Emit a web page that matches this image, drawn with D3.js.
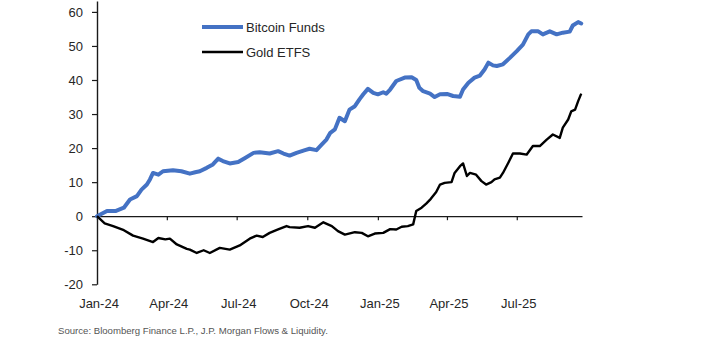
<!DOCTYPE html>
<html>
<head>
<meta charset="utf-8">
<script src="https://cdn.jsdelivr.net/npm/d3@7"></script>
<style>
  html, body { margin: 0; padding: 0; background: #fff; }
  svg { display: block; font-family: "Liberation Sans", Arial, sans-serif; }
</style>
</head>
<body>
<svg id="chart" width="720" height="340"></svg>
<script>
const seriesNames = ["Bitcoin Funds", "Gold ETFS"];
const yTickValues = [-20, -10, 0, 10, 20, 30, 40, 50, 60];
const xTickDates = ["2024-01-01", "2024-04-01", "2024-07-01", "2024-10-01", "2025-01-01", "2025-04-01", "2025-07-01"];
const xTickLabels = ["Jan-24", "Apr-24", "Jul-24", "Oct-24", "Jan-25", "Apr-25", "Jul-25"];
const sourceText = "Source: Bloomberg Finance L.P., J.P. Morgan Flows & Liquidity.";

const btcDates = ["2024-01-01","2024-01-14","2024-01-25","2024-02-05","2024-02-13","2024-02-22","2024-02-28","2024-03-06","2024-03-10","2024-03-14","2024-03-21","2024-03-27","2024-04-09","2024-04-20","2024-05-01","2024-05-08","2024-05-14","2024-05-23","2024-05-31","2024-06-07","2024-06-13","2024-06-22","2024-07-03","2024-07-12","2024-07-23","2024-07-31","2024-08-13","2024-08-24","2024-08-31","2024-09-08","2024-09-17","2024-09-28","2024-10-04","2024-10-13","2024-10-20","2024-10-26","2024-10-31","2024-11-06","2024-11-12","2024-11-19","2024-11-25","2024-12-02","2024-12-08","2024-12-13","2024-12-19","2024-12-26","2025-01-01","2025-01-08","2025-01-12","2025-01-17","2025-01-25","2025-02-05","2025-02-14","2025-02-20","2025-02-24","2025-03-01","2025-03-10","2025-03-16","2025-03-23","2025-04-01","2025-04-09","2025-04-18","2025-04-22","2025-04-29","2025-05-07","2025-05-14","2025-05-20","2025-05-25","2025-05-31","2025-06-05","2025-06-13","2025-06-22","2025-07-01","2025-07-09","2025-07-16","2025-07-20","2025-07-29","2025-08-04","2025-08-13","2025-08-22","2025-08-30","2025-09-08","2025-09-12","2025-09-19","2025-09-23"];
const btcValues = [0,1.5,1.5,2.5,4.9,5.9,7.8,9.3,10.8,12.7,12.2,13.2,13.5,13.2,12.5,12.9,13.2,14.2,15.2,16.9,16.2,15.5,15.9,17.1,18.6,18.8,18.4,19.1,18.4,17.8,18.6,19.4,19.8,19.4,21.1,22.5,24.5,25.5,28.9,27.9,31.3,32.3,34.3,35.8,37.4,36.2,35.8,36.4,36.0,37.2,39.7,40.7,40.8,40.0,37.7,36.7,36.0,35.0,35.8,35.9,35.3,35.1,37.2,39.2,40.7,41.3,43.1,45.1,44.3,44.1,44.6,46.5,48.5,50.4,53.4,54.3,54.3,53.4,54.3,53.4,53.9,54.2,56.0,57.0,56.6];

const goldDates = ["2024-01-01","2024-01-11","2024-01-22","2024-02-05","2024-02-17","2024-03-01","2024-03-14","2024-03-21","2024-03-30","2024-04-05","2024-04-14","2024-04-27","2024-05-01","2024-05-10","2024-05-19","2024-05-27","2024-06-09","2024-06-22","2024-07-05","2024-07-18","2024-07-27","2024-08-04","2024-08-13","2024-08-24","2024-09-04","2024-09-08","2024-09-21","2024-10-02","2024-10-11","2024-10-22","2024-11-02","2024-11-10","2024-11-19","2024-12-02","2024-12-11","2024-12-19","2024-12-28","2025-01-08","2025-01-17","2025-01-25","2025-02-01","2025-02-09","2025-02-16","2025-02-20","2025-02-27","2025-03-05","2025-03-11","2025-03-18","2025-03-23","2025-03-29","2025-04-07","2025-04-11","2025-04-18","2025-04-22","2025-04-27","2025-05-01","2025-05-09","2025-05-16","2025-05-22","2025-05-29","2025-06-02","2025-06-09","2025-06-13","2025-06-20","2025-06-26","2025-07-05","2025-07-14","2025-07-22","2025-07-31","2025-08-09","2025-08-17","2025-08-26","2025-08-30","2025-09-06","2025-09-10","2025-09-15","2025-09-19","2025-09-23"];
const goldValues = [0,-2.1,-2.9,-4.1,-5.7,-6.6,-7.6,-6.4,-6.8,-6.6,-8.3,-9.6,-9.8,-10.8,-10.0,-10.8,-9.3,-9.8,-8.6,-6.6,-5.7,-6.1,-4.9,-3.9,-2.9,-3.2,-3.4,-2.9,-3.4,-1.8,-2.9,-4.4,-5.4,-4.7,-4.9,-5.9,-5.1,-4.9,-3.8,-3.9,-3.1,-2.9,-2.4,1.5,2.5,3.7,5.1,7.1,9.3,9.8,10.0,12.7,14.7,15.5,11.8,12.7,12.2,10.3,9.3,10.0,10.8,11.3,12.7,15.7,18.4,18.4,18.1,20.6,20.6,22.5,24.0,23.0,26.0,28.4,30.8,31.3,33.8,36.0];

const parse = d3.timeParse("%Y-%m-%d");
const btc = btcDates.map((d, i) => ({ date: parse(d), value: btcValues[i] }));
const gold = goldDates.map((d, i) => ({ date: parse(d), value: goldValues[i] }));

const svg = d3.select("#chart");
const textColor = "#262626";

const x = d3.scaleTime()
  .domain([parse("2024-01-01"), parse("2025-09-24")])
  .range([97, 582]);
const y = d3.scaleLinear()
  .domain([-20, 63.2])
  .range([284.3, 1]);

// Y axis
const yAxis = d3.axisLeft(y)
  .tickValues(yTickValues)
  .tickSize(5)
  .tickSizeOuter(0)
  .tickPadding(9)
  .tickFormat(d => String(d));
const gy = svg.append("g").attr("transform", "translate(97,0)").call(yAxis);
gy.select(".domain").attr("stroke", "#1a1a1a").attr("stroke-width", 1.4);
gy.selectAll(".tick line").attr("stroke", "#1a1a1a").attr("stroke-width", 1.2);
gy.selectAll(".tick text")
  .attr("fill", textColor)
  .style("font-size", "13px")
  .style("font-family", "'Liberation Sans', Arial, sans-serif");

// X axis along zero line
const xAxis = d3.axisBottom(x)
  .tickValues(xTickDates.map(parse))
  .tickSize(4)
  .tickSizeOuter(0)
  .tickFormat("");
const gx = svg.append("g").attr("transform", `translate(0,${y(0)})`).call(xAxis);
gx.select(".domain").attr("stroke", "#1a1a1a").attr("stroke-width", 1.2);
gx.selectAll(".tick line").attr("stroke", "#1a1a1a").attr("stroke-width", 1.2);

// X tick labels at the bottom
svg.append("g").selectAll("text")
  .data(xTickDates)
  .join("text")
  .attr("x", d => x(parse(d)) + 2)
  .attr("y", 308)
  .attr("text-anchor", "middle")
  .attr("fill", textColor)
  .style("font-size", "13px")
  .text((d, i) => xTickLabels[i]);

// Lines
const line = d3.line()
  .x(d => x(d.date))
  .y(d => y(d.value))
  .curve(d3.curveLinear);

svg.append("path")
  .datum(btc)
  .attr("fill", "none")
  .attr("stroke", "#4472C4")
  .attr("stroke-width", 4)
  .attr("stroke-linejoin", "round")
  .attr("stroke-linecap", "round")
  .attr("d", line);

svg.append("path")
  .datum(gold)
  .attr("fill", "none")
  .attr("stroke", "#000")
  .attr("stroke-width", 2.4)
  .attr("stroke-linejoin", "round")
  .attr("d", line);

// Legend
const legend = svg.append("g");
const legendItems = [
  { name: seriesNames[0], color: "#4472C4", width: 4, y: 27 },
  { name: seriesNames[1], color: "#000", width: 2.4, y: 52 }
];
legendItems.forEach(it => {
  legend.append("line")
    .attr("x1", 202).attr("x2", 243)
    .attr("y1", it.y).attr("y2", it.y)
    .attr("stroke", it.color)
    .attr("stroke-width", it.width);
  legend.append("text")
    .attr("x", 246)
    .attr("y", it.y + 4.5)
    .attr("fill", textColor)
    .style("font-size", "13px")
    .text(it.name);
});

// Source
svg.append("text")
  .attr("x", 58)
  .attr("y", 334)
  .attr("fill", "#555")
  .style("font-size", "9.6px")
  .text(sourceText);
</script>
</body>
</html>
